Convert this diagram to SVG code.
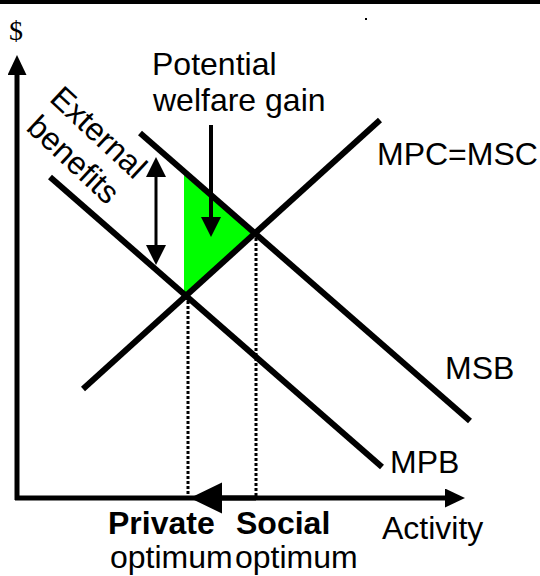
<svg xmlns="http://www.w3.org/2000/svg" width="540" height="576" viewBox="0 0 540 576">
  <style>
    .lbl { font-family: "Liberation Sans", Arial, sans-serif; font-size: 32px; fill: #000; }
    .bold { font-weight: bold; }
    .curve { stroke: #000; stroke-width: 6; fill: none; stroke-linecap: butt; }
    .axis { stroke: #000; stroke-width: 5; fill: none; }
    .guide { stroke: #000; stroke-width: 3; stroke-dasharray: 3 2; fill: none; }
    .ptr { stroke: #000; stroke-width: 4; fill: none; }
  </style>
  <defs>
    <!-- arrowheads: base sits at the line end, tip extends beyond it -->
    <marker id="headAxis" markerUnits="userSpaceOnUse" markerWidth="20" markerHeight="20" refX="0" refY="9.5" orient="auto-start-reverse">
      <path d="M0,0 L20,9.5 L0,19 z" fill="#000"/>
    </marker>
    <marker id="headPtr" markerUnits="userSpaceOnUse" markerWidth="20" markerHeight="20" refX="0" refY="10" orient="auto-start-reverse">
      <path d="M0,0 L20,10 L0,20 z" fill="#000"/>
    </marker>
    <marker id="headBig" markerUnits="userSpaceOnUse" markerWidth="32" markerHeight="32" refX="0" refY="15.5" orient="auto">
      <path d="M0,0 L32,15.5 L0,31 z" fill="#000"/>
    </marker>
  </defs>

  <rect width="540" height="576" fill="#fff"/>
  <!-- top rule and stray dot -->
  <rect x="0" y="0" width="540" height="4" fill="#000"/>
  <rect x="365" y="18" width="2" height="2" fill="#000"/>

  <!-- welfare gain area -->
  <g id="welfare-area">
    <polygon points="184,171 255,233 184,296" fill="#00ff00"/>
  </g>

  <g id="connectors">
    <!-- axes -->
    <line class="axis" x1="17" y1="500" x2="17" y2="75" marker-end="url(#headAxis)"/>
    <line class="axis" x1="15" y1="498" x2="445" y2="498" marker-end="url(#headAxis)"/>
    <!-- optimum guides -->
    <line class="guide" x1="188" y1="296" x2="188" y2="496"/>
    <line class="guide" x1="256" y1="233" x2="256" y2="496"/>
    <!-- move from social to private optimum -->
    <line class="axis" x1="256" y1="498" x2="222" y2="498" marker-end="url(#headBig)"/>
    <!-- external benefits gap -->
    <line stroke="#000" stroke-width="3" x1="156" y1="177" x2="156" y2="245" marker-start="url(#headPtr)" marker-end="url(#headPtr)"/>
    <!-- pointer into the welfare gain -->
    <line class="ptr" x1="211" y1="125" x2="211" y2="217" marker-end="url(#headPtr)"/>
  </g>

  <g id="mpc-msc">
    <line class="curve" x1="83" y1="389" x2="380" y2="120"/>
    <text class="lbl" x="377" y="165">MPC=MSC</text>
  </g>
  <g id="msb">
    <line class="curve" x1="140" y1="133" x2="470" y2="421"/>
    <text class="lbl" x="445" y="379">MSB</text>
  </g>
  <g id="mpb">
    <line class="curve" x1="50" y1="177" x2="382" y2="467"/>
    <text class="lbl" x="390" y="473">MPB</text>
  </g>

  <g id="y-label">
    <text x="9" y="40" font-family="'Liberation Serif', 'Times New Roman', serif" font-size="28">$</text>
  </g>
  <g id="x-label">
    <text class="lbl" x="382" y="539">Activity</text>
  </g>

  <g id="potential-label">
    <text class="lbl" x="152" y="75">Potential</text>
    <text class="lbl" x="153" y="111">welfare gain</text>
  </g>

  <g id="external-label" transform="translate(98,133) rotate(43)">
    <text class="lbl" x="0" y="10" text-anchor="middle">External</text>
    <text class="lbl" x="0" y="47" text-anchor="middle">benefits</text>
  </g>

  <g id="private-label">
    <text class="lbl bold" x="108" y="534">Private</text>
    <text class="lbl" x="110" y="568">optimum</text>
  </g>
  <g id="social-label">
    <text class="lbl bold" x="236" y="534">Social</text>
    <text class="lbl" x="235" y="568">optimum</text>
  </g>
</svg>
